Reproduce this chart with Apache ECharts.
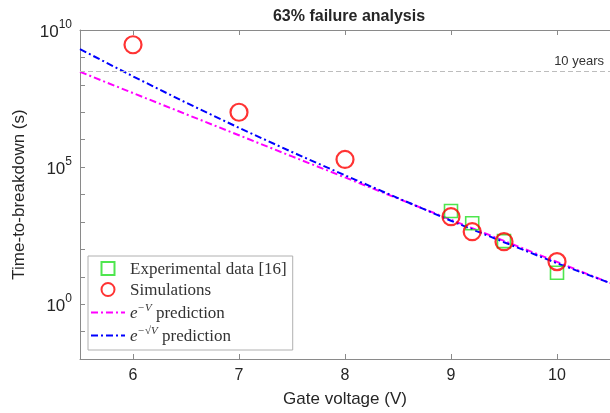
<!DOCTYPE html>
<html><head><meta charset="utf-8">
<script src="https://cdn.jsdelivr.net/npm/echarts@6/dist/echarts.min.js"></script>
<style>html,body{margin:0;padding:0;background:#fff;}#c{width:610px;height:413px;}</style>
</head><body><div id="c"></div>
<script>
// Data (time in seconds)
var expV = [9, 9.2, 9.5, 10];
var expT = [2.5e3, 890, 200, 14];
var simV = [6, 7, 8, 9, 9.2, 9.5, 10];
var simT = [2.9e9, 1.0e7, 1.9e5, 1.55e3, 440, 190, 35.6];
var predV = [5.5, 6, 6.5, 7, 7.5, 8, 8.5, 9, 9.5, 10, 10.5];
var predExpV = [3.0e8, 5.0e7, 8.5e6, 1.45e6, 2.45e5, 4.2e4, 7.1e3, 1.2e3, 204, 34.7, 5.9];
var predSqrtV = [2.0e9, 2.04e8, 2.24e7, 2.7e6, 3.55e5, 5.0e4, 7.4e3, 1.1e3, 182, 31, 5.9];
var tenYears = 3.156e8;
var xTicks = [6, 7, 8, 9, 10];
var names = ['Experimental data [16]', 'Simulations', 'eV', 'esqrtV'];

function zip(a, b) { return a.map(function (v, i) { return [v, b[i]]; }); }

var chart = echarts.init(document.getElementById('c'), null, {renderer: 'canvas'});
var axisCol = '#8a8a8a';
var txtCol = '#262626';
var option = {
  animation: false,
  title: {
    text: '63% failure analysis', left: 344, top: 4, textAlign: 'center',
    textStyle: {fontFamily: 'Liberation Sans', fontWeight: 'bold', fontSize: 16, color: txtCol}
  },
  grid: {left: 80, top: 30, width: 533, height: 330},
  legend: {
    orient: 'vertical', left: 88, top: 256,
    padding: [5, 6, 5, 2], itemGap: 4, itemWidth: 34, itemHeight: 13,
    symbolKeepAspect: true,
    backgroundColor: '#fff', borderColor: '#b0b0b0', borderWidth: 1,
    data: [
      {name: names[0], icon: 'path://M0,0L10,0L10,10L0,10Z'},
      {name: names[1], icon: 'circle'},
      {name: names[2], itemStyle: {opacity: 0}},
      {name: names[3], itemStyle: {opacity: 0}}
    ],
    formatter: function (n) {
      if (n === 'eV') return '{e|e}{s|\u2212V}{t| prediction}';
      if (n === 'esqrtV') return '{e|e}{s|\u2212\u221AV}{t| prediction}';
      return '{t|' + n + '}';
    },
    textStyle: {
      fontFamily: 'Liberation Serif', fontSize: 17, color: '#333',
      rich: {
        t: {fontFamily: 'Liberation Serif', fontSize: 17, color: '#333', lineHeight: 19, verticalAlign: 'bottom'},
        e: {fontFamily: 'Liberation Serif', fontStyle: 'italic', fontSize: 17, color: '#333', lineHeight: 19, verticalAlign: 'bottom'},
        s: {fontFamily: 'Liberation Serif', fontStyle: 'italic', fontSize: 11, color: '#333', lineHeight: 11, verticalAlign: 'top'}
      }
    }
  },
  xAxis: [{
    type: 'value', min: 5.5, max: 10.5, position: 'bottom',
    name: 'Gate voltage (V)', nameLocation: 'middle', nameGap: 32,
    nameTextStyle: {fontFamily: 'Liberation Sans', fontSize: 17, color: txtCol},
    axisLine: {show: true, lineStyle: {color: axisCol}},
    axisTick: {show: true, inside: true, length: 5, lineStyle: {color: axisCol}, customValues: xTicks},
    axisLabel: {customValues: xTicks, margin: 9, fontFamily: 'Liberation Sans', fontSize: 16, color: txtCol},
    splitLine: {show: false}
  }, {
    type: 'value', min: 5.5, max: 10.5, position: 'top',
    axisLine: {show: true, lineStyle: {color: axisCol}},
    axisTick: {show: true, inside: true, length: 5, lineStyle: {color: axisCol}, customValues: xTicks},
    axisLabel: {show: false},
    splitLine: {show: false}
  }],
  yAxis: [{
    type: 'log', logBase: 10, min: 1e-2, max: 1e10, interval: 1,
    name: 'Time-to-breakdown (s)', nameLocation: 'middle', nameGap: 52,
    nameTextStyle: {fontFamily: 'Liberation Sans', fontSize: 17, color: txtCol},
    axisLine: {show: true, lineStyle: {color: axisCol}},
    axisTick: {show: true, inside: true, length: 5, interval: 0, lineStyle: {color: axisCol}},
    axisLabel: {
      margin: 8, interval: 0,
      formatter: function (v) {
        var e = Math.round(Math.log10(v));
        if (e % 5 !== 0) return '';
        return '{b|10}{s|' + e + '}';
      },
      rich: {
        b: {fontFamily: 'Liberation Sans', fontSize: 17, color: txtCol, lineHeight: 22, verticalAlign: 'bottom'},
        s: {fontFamily: 'Liberation Sans', fontSize: 12, color: txtCol, lineHeight: 12, verticalAlign: 'top'}
      }
    },
    splitLine: {show: false}
  }],
  series: [
    {
      name: 'eV', type: 'line', data: zip(predV, predExpV), symbol: 'none', smooth: false,
      lineStyle: {color: '#ff00ff', width: 2, type: [7, 3, 2, 3]}, itemStyle: {color: '#ff00ff'}, z: 2
    },
    {
      name: 'esqrtV', type: 'line', data: zip(predV, predSqrtV), symbol: 'none', smooth: false,
      lineStyle: {color: '#0000ff', width: 2, type: [7, 3, 2, 3]}, itemStyle: {color: '#0000ff'}, z: 3,
      markLine: {
        silent: true, symbol: ['none', 'none'],
        lineStyle: {color: '#bdbdbd', width: 1, type: [5, 3]},
        label: {show: true, position: 'insideEndTop', formatter: '10 years', distance: [6, 3],
                fontFamily: 'Liberation Sans', fontSize: 13, color: '#333'},
        data: [{yAxis: tenYears}]
      }
    },
    {
      name: 'Experimental data [16]', type: 'scatter', data: zip(expV, expT), symbol: 'rect', symbolSize: 13,
      itemStyle: {color: 'rgba(0,0,0,0)', borderColor: '#22e022', borderWidth: 1.6}, z: 4
    },
    {
      name: 'Simulations', type: 'scatter', data: zip(simV, simT), symbol: 'circle', symbolSize: 17,
      itemStyle: {color: 'rgba(0,0,0,0)', borderColor: '#ff0000', borderWidth: 2.2}, z: 5
    }
  ]
};
chart.setOption(option);
</script></body></html>
